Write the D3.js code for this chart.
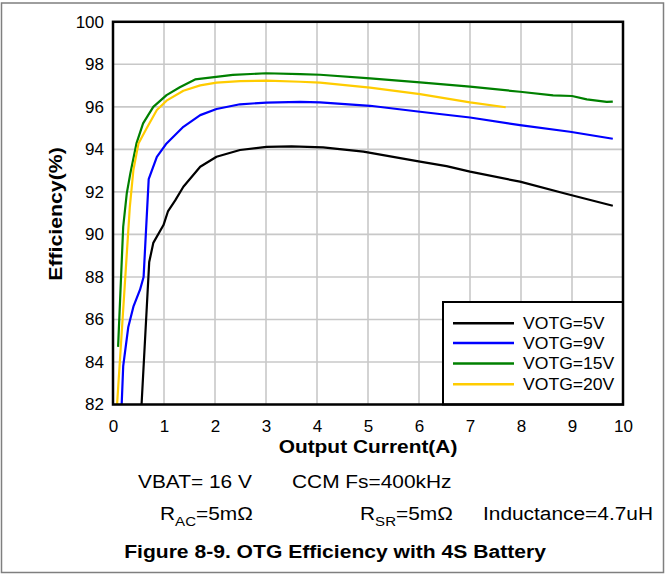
<!DOCTYPE html>
<html>
<head>
<meta charset="utf-8">
<script src="https://cdn.jsdelivr.net/npm/d3@7"></script>
<style>
  html, body { margin: 0; padding: 0; background: #fff; }
  svg { display: block; }
  text { font-family: "Liberation Sans", Arial, Helvetica, sans-serif; fill: #000; }
</style>
</head>
<body>
<svg id="chart" width="665" height="576"></svg>
<script>
// ---------------- data ----------------
const xTicks = [0, 1, 2, 3, 4, 5, 6, 7, 8, 9, 10];
const yTicks = [82, 84, 86, 88, 90, 92, 94, 96, 98, 100];

const seriesNames = ["VOTG=5V", "VOTG=9V", "VOTG=15V", "VOTG=20V"];
const seriesColors = ["#000000", "#0000ff", "#008000", "#ffcc00"];

const votg5 = [
  [0.56, 82.0], [0.71, 88.7], [0.79, 89.6], [0.99, 90.44], [1.08, 91.1], [1.22, 91.6],
  [1.38, 92.24], [1.71, 93.18], [2.03, 93.65], [2.49, 93.97], [3.01, 94.12], [3.5, 94.14],
  [4.12, 94.09], [4.91, 93.89], [6.02, 93.42], [6.54, 93.21], [7.0, 92.95], [7.98, 92.48],
  [8.9, 91.9], [9.8, 91.35]
];
const votg9 = [
  [0.17, 82.0], [0.2, 83.8], [0.3, 85.65], [0.4, 86.6], [0.53, 87.4], [0.6, 88.0],
  [0.7, 92.6], [0.86, 93.65], [1.05, 94.28], [1.38, 95.06], [1.71, 95.61], [2.03, 95.9],
  [2.49, 96.12], [3.01, 96.2], [3.67, 96.23], [4.06, 96.21], [5.04, 96.05], [6.02, 95.77],
  [7.0, 95.5], [7.98, 95.14], [8.96, 94.83], [9.8, 94.5]
];
const votg15 = [
  [0.1, 84.71], [0.2, 90.36], [0.27, 91.93], [0.34, 92.87], [0.46, 94.28], [0.59, 95.22],
  [0.79, 96.0], [1.05, 96.55], [1.31, 96.92], [1.61, 97.29], [1.9, 97.37], [2.35, 97.5],
  [3.0, 97.58], [3.67, 97.54], [4.06, 97.51], [5.04, 97.34], [6.02, 97.15], [7.0, 96.95],
  [7.98, 96.71], [8.63, 96.54], [9.0, 96.51], [9.29, 96.35], [9.68, 96.23], [9.8, 96.25]
];
const votg20 = [
  [0.08, 82.0], [0.33, 91.3], [0.4, 93.03], [0.5, 94.28], [0.66, 94.99], [0.86, 95.85],
  [1.05, 96.29], [1.38, 96.76], [1.71, 97.01], [2.03, 97.14], [2.49, 97.21], [3.01, 97.23],
  [3.67, 97.18], [4.06, 97.14], [5.04, 96.9], [6.02, 96.6], [7.0, 96.21], [7.7, 95.98]
];
const seriesData = [votg5, votg9, votg15, votg20];

// ---------------- layout ----------------
const svg = d3.select("#chart");
const plot = { left: 113, right: 623, top: 21.8, bottom: 404.5 };

const x = d3.scaleLinear().domain([0, 10]).range([plot.left, plot.right]);
const y = d3.scaleLinear().domain([82, 100]).range([plot.bottom, plot.top]);

// outer frame
svg.append("rect")
  .attr("x", 1.5).attr("y", 3).attr("width", 662).attr("height", 569.5)
  .attr("fill", "none").attr("stroke", "#7f7f7f").attr("stroke-width", 1.5);

// grid
const grid = svg.append("g");
grid.selectAll("line.vx").data(xTicks).join("line")
  .attr("x1", d => x(d)).attr("x2", d => x(d))
  .attr("y1", plot.top).attr("y2", plot.bottom)
  .attr("stroke", "#c8c8c8").attr("stroke-width", 1.6);
grid.selectAll("line.hy").data(yTicks).join("line")
  .attr("y1", d => y(d)).attr("y2", d => y(d))
  .attr("x1", plot.left).attr("x2", plot.right)
  .attr("stroke", "#c8c8c8").attr("stroke-width", 1.6);

// axes (labels)
const xAxis = d3.axisBottom(x).tickValues(xTicks).tickSize(0).tickPadding(15).tickFormat(d3.format("d"));
const yAxis = d3.axisLeft(y).tickValues(yTicks).tickSize(0).tickPadding(9).tickFormat(d3.format("d"));

const gx = svg.append("g").attr("transform", `translate(0,${plot.bottom})`).call(xAxis);
const gy = svg.append("g").attr("transform", `translate(${plot.left},0)`).call(yAxis);
[gx, gy].forEach(g => {
  g.select(".domain").remove();
  g.selectAll("text")
    .style("font-family", '"Liberation Sans", Arial, sans-serif')
    .style("font-size", "17px").attr("fill", "#000");
});

// curves
const line = d3.line().x(d => x(d[0])).y(d => y(d[1]));
svg.append("g").selectAll("path").data(seriesData).join("path")
  .attr("d", line)
  .attr("fill", "none")
  .attr("stroke", (d, i) => seriesColors[i])
  .attr("stroke-width", 2.2)
  .attr("stroke-linejoin", "round");

// legend
const legend = svg.append("g");
const lgX = 443, lgY = 302;
legend.append("rect")
  .attr("x", lgX).attr("y", lgY)
  .attr("width", plot.right - lgX).attr("height", plot.bottom - lgY)
  .attr("fill", "#fff").attr("stroke", "#000").attr("stroke-width", 2);
const rowY = [323.3, 343, 363.5, 384.3];
seriesNames.forEach((name, i) => {
  legend.append("line")
    .attr("x1", 453).attr("x2", 514).attr("y1", rowY[i]).attr("y2", rowY[i])
    .attr("stroke", seriesColors[i]).attr("stroke-width", 2.4);
  legend.append("text")
    .attr("transform", `translate(523,${rowY[i] + 5.5}) scale(1.1,1)`)
    .style("font-size", "16px")
    .text(name);
});

// plot border
svg.append("rect")
  .attr("x", plot.left).attr("y", plot.top)
  .attr("width", plot.right - plot.left).attr("height", plot.bottom - plot.top)
  .attr("fill", "none").attr("stroke", "#000").attr("stroke-width", 2.5);

// text helper
function label(px, py, str, size, weight, anchor, sx, rot) {
  const t = svg.append("text")
    .attr("transform", `translate(${px},${py})` + (rot ? ` rotate(${rot})` : "") + ` scale(${sx},1)`)
    .attr("text-anchor", anchor)
    .style("font-size", size + "px")
    .style("font-weight", weight);
  if (str !== null) t.text(str);
  return t;
}

// axis titles
label(368, 453, "Output Current(A)", 19, "bold", "middle", 1.1);
label(62, 214, "Efficiency(%)", 19, "bold", "middle", 1.12, -90);

// annotations
label(138, 488, "VBAT= 16 V", 18, "normal", "start", 1.16);
label(292, 488, "CCM Fs=400kHz", 18, "normal", "start", 1.16);

function subLabel(px, py, main, sub, rest) {
  const t = label(px, py, null, 18, "normal", "start", 1.16);
  t.append("tspan").text(main);
  t.append("tspan").attr("dy", 6).style("font-size", "13px").text(sub);
  t.append("tspan").attr("dy", -6).text(rest);
}
subLabel(160, 520, "R", "AC", "=5mΩ");
subLabel(360, 520, "R", "SR", "=5mΩ");
label(483, 520, "Inductance=4.7uH", 18, "normal", "start", 1.16);

// caption
label(335, 558, "Figure 8-9. OTG Efficiency with 4S Battery", 19, "bold", "middle", 1.11);
</script>
</body>
</html>
